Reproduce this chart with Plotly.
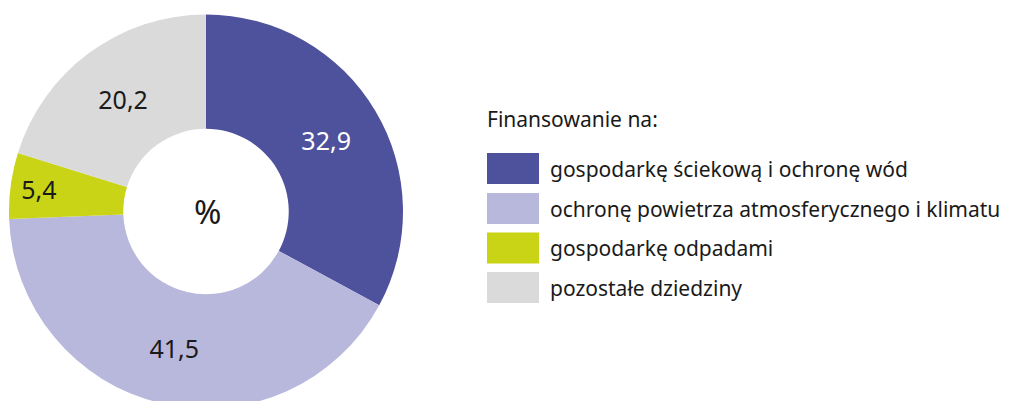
import plotly.graph_objects as go

W, H = 1014, 401
OFF = 8  # page body margin offset

categories = [
    "gospodarkę ściekową i ochronę wód",
    "ochronę powietrza atmosferycznego i klimatu",
    "gospodarkę odpadami",
    "pozostałe dziedziny",
]
values = [32.9, 41.5, 5.4, 20.2]
colors = ["#4E519B", "#B8B7DC", "#C9D417", "#DADADA"]
text_colors = ["#FFFFFF", "#1A1A1A", "#1A1A1A", "#1A1A1A"]
legend_title = "Finansowanie na:"
center_label = "%"

FONT = "Noto Sans"

labels_text = [f"{v:.1f}".replace(".", ",") for v in values]

# target screen geometry
cx, cy, R = 206 - OFF, 211 - OFF, 197

fig = go.Figure()
fig.add_trace(go.Pie(
    labels=categories,
    values=values,
    text=labels_text,
    textinfo="text",
    textposition="inside",
    insidetextorientation="horizontal",
    sort=False,
    direction="clockwise",
    rotation=0,
    hole=0.42,
    marker=dict(colors=colors, line=dict(width=0)),
    textfont=dict(family=FONT, size=25, color=text_colors),
    domain=dict(x=[(cx - R) / W, (cx + R) / W], y=[0, 1 - (cy - R) / H]),
    showlegend=False,
    hoverinfo="label+percent",
))

def px(x):
    return (x - OFF) / W

def py(y):
    return 1 - (y - OFF) / H

shapes = []
annotations = []

annotations.append(dict(
    x=px(207), y=py(212), xref="paper", yref="paper",
    text=center_label, showarrow=False,
    font=dict(family=FONT, size=33, color="#1A1A1A"),
    xanchor="center", yanchor="middle",
))

annotations.append(dict(
    x=px(485), y=py(119), xref="paper", yref="paper",
    text=legend_title, showarrow=False,
    font=dict(family=FONT, size=21, color="#1A1A1A"),
    xanchor="left", yanchor="middle",
))

row_centers = [168.5, 208.5, 248, 287.5]
for i, (cat, col) in enumerate(zip(categories, colors)):
    yc = row_centers[i]
    shapes.append(dict(
        type="rect", xref="paper", yref="paper",
        x0=px(487), x1=px(539), y0=py(yc - 15.5), y1=py(yc + 15.5),
        fillcolor=col, line=dict(width=0),
    ))
    annotations.append(dict(
        x=px(548), y=py(yc), xref="paper", yref="paper",
        text=cat, showarrow=False,
        font=dict(family=FONT, size=21, color="#1A1A1A"),
        xanchor="left", yanchor="middle",
    ))

fig.update_layout(
    width=W, height=H,
    margin=dict(l=0, r=0, t=0, b=0),
    paper_bgcolor="white",
    plot_bgcolor="white",
    shapes=shapes,
    annotations=annotations,
    font=dict(family=FONT),
)

fig.write_html("out.html")
